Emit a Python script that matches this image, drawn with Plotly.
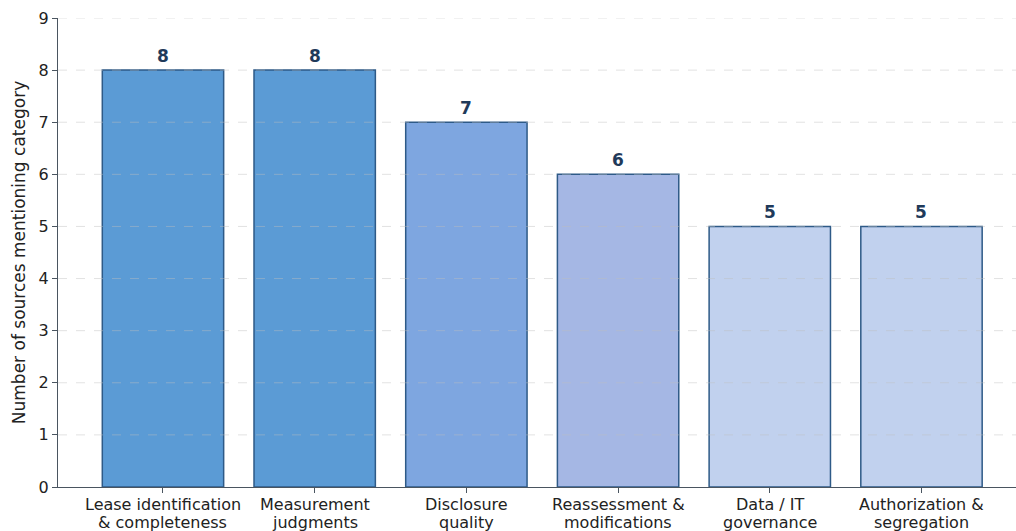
import plotly.graph_objects as go

category_lines = [
    ("Lease identification", "& completeness"),
    ("Measurement", "judgments"),
    ("Disclosure", "quality"),
    ("Reassessment &", "modifications"),
    ("Data / IT", "governance"),
    ("Authorization &", "segregation"),
]
counts = [8, 8, 7, 6, 5, 5]
bar_colors = ["#5b9bd5", "#5b9bd5", "#7ea6e0", "#a5b7e4", "#c1d1ee", "#c1d1ee"]
y_ticks = [0, 1, 2, 3, 4, 5, 6, 7, 8, 9]
y_title = "Number of sources mentioning category"

FONT = "DejaVu Sans"
TXT = "#222222"
x_idx = list(range(len(category_lines)))

fig = go.Figure()
fig.add_trace(go.Bar(
    x=x_idx,
    y=counts,
    width=0.8,
    marker=dict(color=bar_colors, line=dict(color="#2e5a87", width=1.5)),
    showlegend=False,
    hoverinfo="skip",
))

# value labels
for xi, v in zip(x_idx, counts):
    fig.add_annotation(
        x=xi, y=v, text=f"<b>{v}</b>", showarrow=False,
        yanchor="bottom", yshift=2,
        font=dict(family=FONT, size=17, color="#1f3a5a"),
    )

# two-line category labels under the x axis
for xi, (l1, l2) in zip(x_idx, category_lines):
    fig.add_annotation(
        x=xi, xref="x", y=0, yref="paper", text=l1, showarrow=False,
        yanchor="middle", yshift=-17,
        font=dict(family=FONT, size=16, color=TXT),
    )
    fig.add_annotation(
        x=xi, xref="x", y=0, yref="paper", text=l2, showarrow=False,
        yanchor="middle", yshift=-35,
        font=dict(family=FONT, size=16, color=TXT),
    )

# dashed grid drawn over the bars
for t in y_ticks[1:]:
    fig.add_shape(
        type="line", xref="paper", x0=0, x1=1, yref="y", y0=t, y1=t,
        line=dict(color="rgba(190,190,190,0.45)", width=1, dash="dash"),
        layer="above",
    )

fig.update_layout(
    width=1016,
    height=531,
    margin=dict(l=58, r=0, t=18, b=44, autoexpand=False),
    paper_bgcolor="white",
    plot_bgcolor="white",
    font=dict(family=FONT, size=16, color=TXT),
)
fig.update_xaxes(
    range=[-0.692, 5.623],
    tickmode="array",
    tickvals=x_idx,
    showticklabels=False,
    ticks="outside",
    ticklen=5,
    tickcolor="#4a5560",
    showline=True,
    linecolor="#4a5560",
    linewidth=1.2,
    showgrid=False,
    zeroline=False,
    automargin=False,
)
fig.update_yaxes(
    range=[0, 9],
    tickmode="array",
    tickvals=y_ticks,
    ticks="outside",
    ticklen=5,
    tickcolor="#4a5560",
    showline=True,
    linecolor="#4a5560",
    linewidth=1.2,
    showgrid=False,
    zeroline=False,
    automargin=False,
    title=dict(text=y_title, standoff=8, font=dict(family=FONT, size=17, color=TXT)),
    tickfont=dict(family=FONT, size=16, color=TXT),
)

fig.write_html("out.html")
